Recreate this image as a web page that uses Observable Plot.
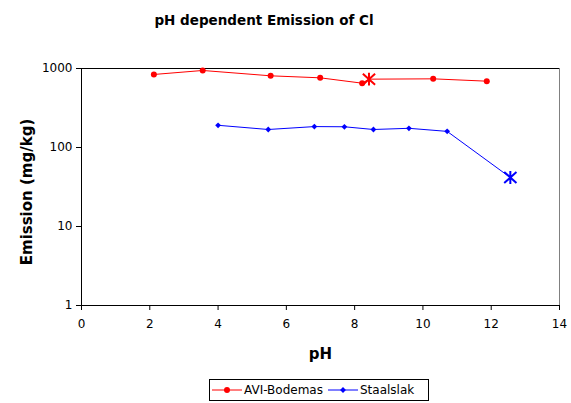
<!DOCTYPE html>
<html>
<head>
<meta charset="utf-8">
<script src="https://cdn.jsdelivr.net/npm/d3@7"></script>
<script src="https://cdn.jsdelivr.net/npm/@observablehq/plot@0.6"></script>
<style>
  html, body { margin: 0; padding: 0; background: #fff; }
  #wrap { position: relative; width: 571px; height: 403px; font-family: "DejaVu Sans", Verdana, sans-serif; overflow: hidden; }
  #title { position: absolute; left: 0; top: 12px; width: 528px; text-align: center; font-weight: bold; font-size: 13.5px; }
  #chart { position: absolute; left: 0; top: 0; }
  #legend { position: absolute; left: 209px; top: 379px; width: 218px; height: 20px; border: 1px solid #000; display: flex; align-items: center; font-size: 12px; box-sizing: content-box; }
  #legend .item { display: flex; align-items: center; margin-left: 2px; margin-right: 3px; }
  #legend svg { margin-right: 2px; }
</style>
</head>
<body>
<div id="wrap">
  <div id="title">pH dependent Emission of Cl</div>
  <div id="chart"></div>
  <div id="legend"></div>
</div>
<script>
// Data
const seriesNames = ["AVI-Bodemas", "Staalslak"];
const seriesColors = ["#ff0000", "#0000ff"];
const aviPH = [2.12, 3.55, 5.54, 6.99, 8.22, 8.42, 10.3, 11.87];
const aviEmission = [840, 944, 808, 762, 652, 733, 740, 691];
const aviStarIndex = 5;
const staalPH = [4.0, 5.47, 6.82, 7.70, 8.55, 9.59, 10.71, 12.56];
const staalEmission = [191, 169, 184, 183, 169, 175, 160, 41.7];
const staalStarIndex = 7;
const xTicks = [0, 2, 4, 6, 8, 10, 12, 14];
const yTicks = [1, 10, 100, 1000];

const avi = aviPH.map((p, i) => ({ pH: p, em: aviEmission[i], star: i === aviStarIndex }));
const staal = staalPH.map((p, i) => ({ pH: p, em: staalEmission[i], star: i === staalStarIndex }));

// Excel-like asterisk: vertical bar plus an X
const excelStar = {
  draw(context, size) {
    const r = Math.sqrt(size) * 0.65;
    const a = r * 0.95;
    context.moveTo(0, -r); context.lineTo(0, r);
    context.moveTo(-a, -a * 0.9); context.lineTo(a, a * 0.9);
    context.moveTo(-a, a * 0.9); context.lineTo(a, -a * 0.9);
  }
};

const chart = Plot.plot({
  width: 571,
  height: 375,
  marginTop: 68,
  marginLeft: 81,
  marginRight: 12,
  marginBottom: 70,
  style: { fontFamily: "DejaVu Sans, Verdana, sans-serif", fontSize: "12px", color: "#000", background: "transparent" },
  x: { domain: [0, 14] },
  y: { type: "log", domain: [1, 1000] },
  marks: [
    Plot.ruleX([14], { stroke: "#808080" }),
    Plot.ruleY([1000], { stroke: "#000" }),
    Plot.ruleX([0], { stroke: "#000" }),
    Plot.ruleY([1], { stroke: "#000" }),
    Plot.axisX({ ticks: xTicks, tickSize: 5, tickPadding: 9, label: "pH", labelAnchor: "center", labelArrow: "none", labelOffset: 53 }),
    Plot.axisY({ ticks: yTicks, tickFormat: d3.format("d"), tickSize: 5, tickPadding: 4, label: "Emission (mg/kg)", labelAnchor: "center", labelArrow: "none", labelOffset: 60 }),
    Plot.line(avi, { x: "pH", y: "em", stroke: seriesColors[0], strokeWidth: 1 }),
    Plot.line(staal, { x: "pH", y: "em", stroke: seriesColors[1], strokeWidth: 1 }),
    Plot.dot(avi.filter(d => !d.star), { x: "pH", y: "em", r: 3, fill: seriesColors[0], symbol: "circle" }),
    Plot.dot(staal.filter(d => !d.star), { x: "pH", y: "em", r: 2.6, fill: seriesColors[1], symbol: "diamond2" }),
    Plot.dot(avi.filter(d => d.star), { x: "pH", y: "em", r: 5.6, stroke: seriesColors[0], strokeWidth: 2, symbol: excelStar }),
    Plot.dot(staal.filter(d => d.star), { x: "pH", y: "em", r: 5.6, stroke: seriesColors[1], strokeWidth: 2, symbol: excelStar })
  ]
});
document.getElementById("chart").appendChild(chart);
chart.querySelectorAll('[aria-label="x-axis label"], [aria-label="y-axis label"]').forEach(g => {
  g.style.fontWeight = "bold";
  g.style.fontSize = "15px";
});
const yLab = chart.querySelector('[aria-label="y-axis label"]');
if (yLab) {
  const tr = yLab.getAttribute("transform") || "";
  yLab.setAttribute("transform", "translate(0,5) " + tr);
}

// legend
const legend = document.getElementById("legend");
const legendSymbols = [d3.symbol(d3.symbolCircle, 28)(), d3.symbol(d3.symbolDiamond2, 22)()];
seriesNames.forEach((name, i) => {
  const item = document.createElement("div");
  item.className = "item";
  item.innerHTML = `<svg width="30" height="10"><line x1="0" y1="5" x2="30" y2="5" stroke="${seriesColors[i]}" stroke-width="1"/><path transform="translate(15,5)" d="${legendSymbols[i]}" fill="${seriesColors[i]}"/></svg><span>${name}</span>`;
  legend.appendChild(item);
});
</script>
</body>
</html>
